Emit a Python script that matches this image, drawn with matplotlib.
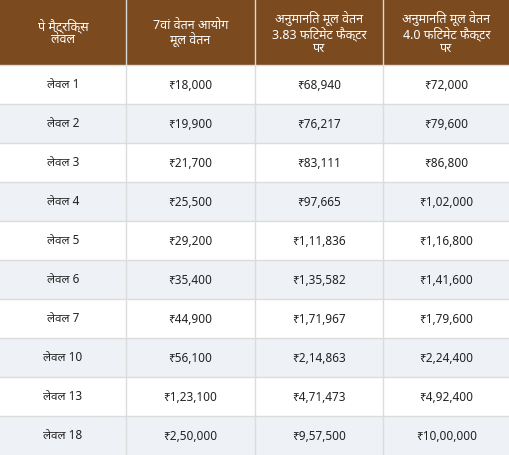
import matplotlib.pyplot as plt
from matplotlib.patches import Rectangle

plt.rcParams['font.family'] = ['Noto Sans', 'DejaVu Sans']

headers = ['पे मैट्रिक्स\nलेवल', '7वां वेतन आयोग\nमूल वेतन',
           'अनुमानित मूल वेतन\n3.83 फिटमेंट फैक्टर\nपर',
           'अनुमानित मूल वेतन\n4.0 फिटमेंट फैक्टर\nपर']
levels = ['लेवल 1', 'लेवल 2', 'लेवल 3', 'लेवल 4', 'लेवल 5', 'लेवल 6',
          'लेवल 7', 'लेवल 10', 'लेवल 13', 'लेवल 18']
pay_7th = ['₹18,000', '₹19,900', '₹21,700', '₹25,500', '₹29,200', '₹35,400',
           '₹44,900', '₹56,100', '₹1,23,100', '₹2,50,000']
pay_383 = ['₹68,940', '₹76,217', '₹83,111', '₹97,665', '₹1,11,836', '₹1,35,582',
           '₹1,71,967', '₹2,14,863', '₹4,71,473', '₹9,57,500']
pay_40 = ['₹72,000', '₹79,600', '₹86,800', '₹1,02,000', '₹1,16,800', '₹1,41,600',
          '₹1,79,600', '₹2,24,400', '₹4,92,400', '₹10,00,000']

W, H = 510, 456
col_x = [0, 126, 255, 383, 510]
head_h = 66
row_h = (H - head_h) / len(levels)

fig = plt.figure(figsize=(W / 100, H / 100), dpi=100)
ax = fig.add_axes([0, 0, 1, 1])
ax.set_xlim(0, W)
ax.set_ylim(H, 0)
ax.axis('off')

ax.add_patch(Rectangle((0, 0), W, head_h, color='#7b4a1f', lw=0))
for c, h in enumerate(headers):
    cx = (col_x[c] + col_x[c + 1]) / 2
    ax.text(cx, head_h / 2, h, ha='center', va='center', color='white',
            fontsize=9, fontweight='bold', linespacing=1.05)
    if c > 0:
        ax.plot([col_x[c]] * 2, [0, head_h], color='#d8d8d8', lw=1)

for r in range(len(levels)):
    y0 = head_h + r * row_h
    bg = '#ffffff' if r % 2 == 0 else '#eef1f6'
    ax.add_patch(Rectangle((0, y0), W, row_h, color=bg, lw=0))
    ax.plot([0, W], [y0, y0], color='#dcdcdc', lw=1)
    vals = [levels[r], pay_7th[r], pay_383[r], pay_40[r]]
    for c, v in enumerate(vals):
        cx = (col_x[c] + col_x[c + 1]) / 2
        ax.text(cx, y0 + row_h / 2, v, ha='center', va='center', color='#222222',
                fontsize=8.5, fontweight='bold' if c == 0 else 'normal')
for c in range(1, 4):
    ax.plot([col_x[c]] * 2, [head_h, H], color='#dcdcdc', lw=1)

fig.savefig('out.png', dpi=100)
